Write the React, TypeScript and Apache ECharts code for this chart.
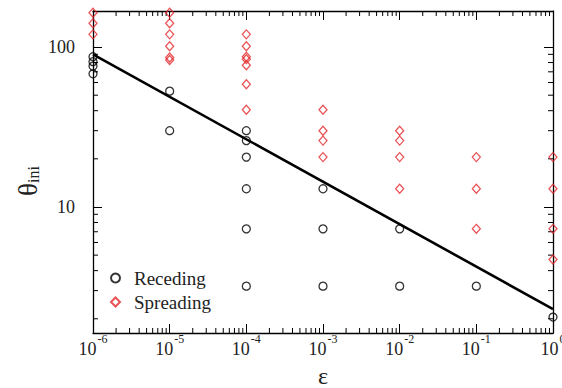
import React, { useEffect, useRef } from "react";
import * as echarts from "echarts";

// Receding (black circles)
const recedingEps = [1e-6, 1e-6, 1e-6, 1e-6, 1e-5, 1e-5, 1e-4, 1e-4, 1e-4, 1e-4, 1e-4, 1e-4, 1e-3, 1e-3, 1e-3, 1e-2, 1e-2, 1e-1, 1];
const recedingTheta = [87, 81, 76, 68, 53, 30, 30, 26, 20.5, 13, 7.3, 3.2, 13, 7.3, 3.2, 7.3, 3.2, 3.2, 2.05];

// Spreading (red diamonds)
const spreadingEps = [1e-6, 1e-6, 1e-6, 1e-5, 1e-5, 1e-5, 1e-5, 1e-5, 1e-5, 1e-4, 1e-4, 1e-4, 1e-4, 1e-4, 1e-4, 1e-4, 1e-3, 1e-3, 1e-3, 1e-3, 1e-2, 1e-2, 1e-2, 1e-2, 1e-1, 1e-1, 1e-1, 1, 1, 1, 1];
const spreadingTheta = [164, 141, 120, 164, 141, 120, 101, 86, 83, 120, 101, 87, 84, 77, 58.5, 40.6, 40.6, 30, 26, 20.5, 30, 26, 20.5, 13, 20.5, 13, 7.3, 20.5, 13, 7.3, 4.7];

// Fitted line
const fitEps = [1e-6, 1];
const fitTheta = [90, 2.3];

// Axis ranges and ticks
const xRange = [1e-6, 1];
const yRange = [1.63, 168];
const xDecades = [-6, -5, -4, -3, -2, -1];
const yDecades = [0, 1, 2];
const minorMult = [2, 3, 4, 5, 6, 7, 8, 9];

const FONT = "'Liberation Serif', 'Times New Roman', serif";
const RED = "#e3262a";

export default function App() {
  const ref = useRef<HTMLDivElement>(null);
  useEffect(() => {
    document.body.style.margin = "0";
    const chart = echarts.init(ref.current!, null, { renderer: "svg" });

    const minorX: number[] = [];
    xDecades.forEach((d) => minorMult.forEach((k) => minorX.push(k * Math.pow(10, d))));
    const minorY: number[] = [];
    yDecades.forEach((d) =>
      minorMult.forEach((k) => {
        const v = k * Math.pow(10, d);
        if (v > yRange[0] && v < yRange[1]) minorY.push(v);
      })
    );

    const axisLineStyle = { color: "#000", width: 1.3 };
    const tickCommon = { show: true, inside: true, length: 9, lineStyle: { color: "#000", width: 1 } };

    const xLabelFmt = (v: number) => {
      const e = Math.round(Math.log10(v));
      if (Math.abs(Math.pow(10, e) - v) / v > 1e-6) return "";
      return `{b|10}{s|${e}}`;
    };
    const yLabelFmt = (v: number) => {
      const e = Math.round(Math.log10(v));
      if (Math.abs(Math.pow(10, e) - v) / v > 1e-6) return "";
      return String(Math.round(Math.pow(10, e)));
    };

    const option: any = {
      animation: false,
      backgroundColor: "#fff",
      textStyle: { fontFamily: FONT },
      grid: { left: 93, right: 9, top: 11, bottom: 55, outerBoundsMode: "none", containLabel: false },
      legend: {
        data: ["Receding", "Spreading"],
        orient: "vertical",
        left: 105,
        top: 263,
        itemWidth: 9,
        itemHeight: 9,
        itemGap: 4,
        textStyle: { fontFamily: FONT, fontSize: 19, color: "#222", lineHeight: 20, padding: [0, 0, 0, 9] },
      },
      xAxis: [
        {
          type: "log",
          min: xRange[0],
          max: xRange[1],
          position: "bottom",
          name: "ε",
          nameLocation: "middle",
          nameGap: 31,
          nameMoveOverlap: false,
          nameTextStyle: { fontFamily: FONT, fontSize: 24, color: "#222" },
          axisLine: { lineStyle: axisLineStyle },
          axisTick: tickCommon,
          splitLine: { show: false },
          axisLabel: {
            formatter: xLabelFmt,
            margin: 7,
            color: "#222",
            fontFamily: FONT,
            rich: {
              b: { fontFamily: FONT, fontSize: 18, lineHeight: 18, color: "#222" },
              s: { fontFamily: FONT, fontSize: 12, lineHeight: 12, padding: [0, 0, 20, 1], color: "#222" },
            },
          },
        },
        {
          type: "log",
          min: xRange[0],
          max: xRange[1],
          position: "top",
          axisLine: { lineStyle: axisLineStyle },
          axisTick: tickCommon,
          axisLabel: { show: false },
          splitLine: { show: false },
        },
      ],
      yAxis: [
        {
          type: "log",
          min: yRange[0],
          max: yRange[1],
          position: "left",
          name: "{t|θ}{s|ini}",
          nameLocation: "middle",
          nameRotate: 90,
          nameGap: 52,
          nameMoveOverlap: false,
          nameTextStyle: {
            fontFamily: FONT,
            padding: [0, 18, 0, 0],
            rich: {
              t: { fontFamily: FONT, fontSize: 27, lineHeight: 27, color: "#222" },
              s: { fontFamily: FONT, fontSize: 16, lineHeight: 16, padding: [12, 0, 0, 0], color: "#222" },
            },
          },
          axisLine: { lineStyle: axisLineStyle },
          axisTick: tickCommon,
          splitLine: { show: false },
          axisLabel: { formatter: yLabelFmt, margin: 18, fontFamily: FONT, fontSize: 18, color: "#222" },
        },
        {
          type: "log",
          min: yRange[0],
          max: yRange[1],
          position: "right",
          axisLine: { lineStyle: axisLineStyle },
          axisTick: tickCommon,
          axisLabel: { show: false },
          splitLine: { show: false },
        },
      ],
      series: [
        {
          name: "fit",
          type: "line",
          data: fitEps.map((e, i) => [e, fitTheta[i]]),
          symbol: "none",
          lineStyle: { color: "#000", width: 2.6 },
          silent: true,
          z: 3,
        },
        {
          name: "Receding",
          type: "scatter",
          data: recedingEps.map((e, i) => [e, recedingTheta[i]]),
          symbol: "circle",
          symbolSize: 8,
          itemStyle: { color: "rgba(0,0,0,0)", borderColor: "#000", borderWidth: 1.3 },
          z: 4,
        },
        {
          name: "Spreading",
          type: "scatter",
          data: spreadingEps.map((e, i) => [e, spreadingTheta[i]]),
          symbol: "diamond",
          symbolSize: [8, 9],
          itemStyle: { color: "rgba(0,0,0,0)", borderColor: RED, borderWidth: 1.3 },
          z: 4,
        },
        {
          name: "minorX",
          type: "custom",
          silent: true,
          clip: false,
          data: minorX.map((v) => [v, 10]),
          renderItem: (params: any, api: any) => {
            const x = api.coord([api.value(0), 10])[0];
            const cs = params.coordSys;
            const st = { stroke: "#000", lineWidth: 1 };
            return {
              type: "group",
              children: [
                { type: "line", shape: { x1: x, y1: cs.y + cs.height, x2: x, y2: cs.y + cs.height - 5 }, style: st },
                { type: "line", shape: { x1: x, y1: cs.y, x2: x, y2: cs.y + 5 }, style: st },
              ],
            };
          },
        },
        {
          name: "minorY",
          type: "custom",
          silent: true,
          clip: false,
          data: minorY.map((v) => [1e-3, v]),
          renderItem: (params: any, api: any) => {
            const y = api.coord([1e-3, api.value(1)])[1];
            const cs = params.coordSys;
            const st = { stroke: "#000", lineWidth: 1 };
            return {
              type: "group",
              children: [
                { type: "line", shape: { x1: cs.x, y1: y, x2: cs.x + 5, y2: y }, style: st },
                { type: "line", shape: { x1: cs.x + cs.width, y1: y, x2: cs.x + cs.width - 5, y2: y }, style: st },
              ],
            };
          },
        },
      ],
    };
    chart.setOption(option);
    return () => chart.dispose();
  }, []);
  return <div ref={ref} style={{ width: 562, height: 388 }} />;
}
